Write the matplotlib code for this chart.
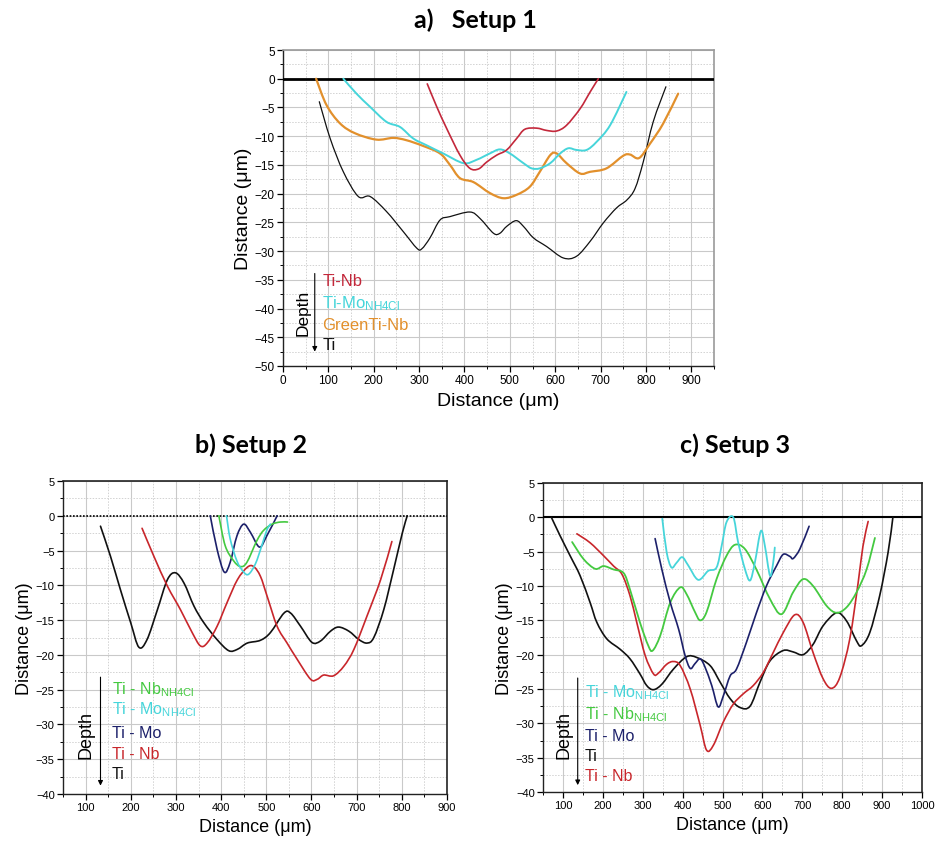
import matplotlib
matplotlib.use('Agg')
import matplotlib.pyplot as plt
from matplotlib.ticker import MultipleLocator
from matplotlib.path import Path
from matplotlib.patches import PathPatch

plt.rcParams['font.family'] = ['Liberation Sans', 'DejaVu Sans']
plt.rcParams['mathtext.fontset'] = 'custom'
plt.rcParams['mathtext.rm'] = 'Liberation Sans'
plt.rcParams['mathtext.it'] = 'Liberation Sans:italic'
plt.rcParams['mathtext.bf'] = 'Liberation Sans:bold'

# ---------------- Panel a (Setup 1) ----------------
a_ti_x = [80, 104, 133, 166, 192, 228, 265, 295, 306, 324, 346, 368, 412, 434, 464, 478, 493, 514, 530, 552,
          581, 618, 647, 677, 706, 735, 758, 776, 794, 816, 844]
a_ti_y = [-4.0, -10.4, -16.2, -20.5, -20.5, -23.1, -26.6, -29.5, -29.6, -27.7, -24.6, -24.0, -23.2, -24.3, -26.9,
          -26.9, -25.7, -24.7, -25.7, -27.7, -29.2, -31.2, -30.9, -28.3, -25.1, -22.5, -21.1, -19.1, -14.5, -7.5, -1.4]

a_green_x = [73, 96, 126, 159, 206, 243, 272, 309, 346, 368, 390, 420, 456, 486, 515, 544, 566, 589, 603, 625,
             655, 677, 713, 750, 765, 785, 809, 838, 871]
a_green_y = [0, -4.6, -7.8, -9.5, -10.6, -10.3, -10.7, -11.7, -13.0, -15.0, -17.3, -18.0, -19.9, -20.8, -20.2,
             -18.8, -16.2, -13.3, -13.0, -14.7, -16.5, -16.2, -15.6, -13.4, -13.2, -13.8, -11.3, -7.8, -2.6]

a_mo_x = [133, 162, 192, 228, 258, 287, 317, 353, 398, 427, 456, 478, 500, 530, 548, 566, 589, 611, 629, 647,
          669, 691, 721, 757]
a_mo_y = [0, -2.6, -4.9, -7.5, -8.4, -10.4, -11.6, -13.0, -14.7, -14.1, -13.0, -12.3, -13.0, -14.7, -15.6, -15.6,
          -14.7, -13.0, -12.1, -12.4, -12.4, -11.0, -8.1, -2.3]

a_nb_x = [318, 339, 361, 390, 412, 431, 449, 471, 493, 515, 533, 559, 581, 603, 625, 655, 677, 695]
a_nb_y = [-0.9, -4.9, -8.7, -13.3, -15.6, -15.7, -14.5, -13.3, -12.4, -10.4, -8.8, -8.6, -9.0, -9.1, -8.1, -5.2,
          -2.3, 0]

a_labels = ['Ti-Nb', r'Ti-Mo$_{\mathregular{NH4Cl}}$', 'GreenTi-Nb', 'Ti']

# ---------------- Panel b (Setup 2) ----------------
b_ti_x = [133, 155, 177, 200, 218, 236, 259, 281, 299, 318, 340, 362, 391, 417, 436, 458, 487, 509, 539, 554,
          576, 601, 620, 642, 660, 683, 705, 723, 738, 760, 782, 801, 812]
b_ti_y = [-1.5, -5.8, -10.6, -15.4, -18.9, -17.8, -13.5, -9.2, -8.2, -9.7, -13.0, -15.4, -17.8, -19.4, -19.2,
          -18.3, -17.9, -16.8, -14.0, -14.0, -15.9, -18.2, -18.0, -16.6, -16.0, -16.6, -17.8, -18.3, -17.5, -13.5,
          -7.7, -2.5, 0]

b_nb_x = [225, 251, 281, 310, 336, 354, 369, 391, 413, 436, 458, 472, 487, 502, 524, 546, 568, 598, 613, 627,
          649, 672, 694, 723, 753, 778]
b_nb_y = [-1.8, -5.8, -10.1, -13.5, -16.8, -18.7, -18.3, -15.9, -12.5, -9.2, -7.4, -7.3, -8.7, -11.6, -15.9,
          -18.3, -20.6, -23.5, -23.5, -22.9, -23.0, -21.6, -19.2, -14.4, -9.2, -3.7]

b_mo_x = [376, 391, 407, 420, 435, 450, 465, 485, 501, 524]
b_mo_y = [0, -4.8, -8.1, -6.7, -2.9, -1.2, -2.4, -4.5, -2.9, 0]

b_nbn_x = [395, 409, 428, 443, 457, 479, 494, 513, 531, 547]
b_nbn_y = [0, -4.3, -6.5, -7.3, -6.7, -3.6, -2.1, -1.2, -0.9, -0.9]

b_mon_x = [412, 420, 435, 450, 461, 476, 490, 501, 509]
b_mon_y = [0, -3.3, -6.5, -8.1, -8.4, -6.9, -4.3, -2.1, -1.2]

b_labels = [r'Ti - Nb$_{\mathregular{NH4Cl}}$', r'Ti - Mo$_{\mathregular{NH4Cl}}$', 'Ti - Mo', 'Ti - Nb', 'Ti']

# ---------------- Panel c (Setup 3) ----------------
c_ti_x = [71, 93, 118, 143, 168, 185, 210, 243, 268, 293, 310, 327, 348, 377, 410, 435, 469, 494, 519, 544,
          569, 594, 619, 652, 677, 702, 727, 752, 786, 811, 836, 848, 869, 894, 915, 927]
c_ti_y = [0, -2.7, -5.6, -8.5, -12.4, -15.3, -17.7, -19.2, -20.6, -22.8, -24.5, -25.1, -24.3, -22.1, -20.3,
          -20.4, -21.6, -24.0, -26.4, -27.7, -27.5, -24.0, -20.9, -19.4, -19.6, -20.0, -18.5, -15.8, -13.9, -15.1,
          -18.0, -18.7, -16.8, -11.4, -5.1, 0]

c_nb_x = [135, 168, 202, 227, 248, 268, 285, 306, 327, 339, 360, 377, 394, 419, 444, 460, 477, 502, 527, 552,
          577, 602, 627, 652, 681, 702, 727, 752, 773, 794, 819, 840, 852, 865]
c_nb_y = [-2.4, -3.7, -5.6, -7.1, -8.3, -11.4, -15.3, -20.1, -22.8, -22.7, -21.4, -21.0, -21.6, -25.0, -30.3,
          -33.9, -33.2, -29.8, -27.2, -25.7, -24.5, -22.6, -19.7, -16.8, -14.2, -15.3, -19.7, -23.5, -24.9, -23.3,
          -17.7, -9.5, -4.2, -0.6]

c_nbn_x = [123, 152, 181, 202, 227, 252, 268, 293, 314, 325, 344, 369, 394, 410, 431, 444, 460, 485, 510, 531,
           556, 585, 619, 648, 677, 702, 727, 761, 786, 811, 836, 861, 882]
c_nbn_y = [-3.6, -6.1, -7.5, -7.1, -7.6, -8.1, -10.5, -15.3, -18.7, -19.4, -17.2, -12.4, -10.2, -11.2, -13.8,
           -15.0, -13.8, -9.0, -5.6, -4.0, -4.6, -7.6, -11.9, -14.1, -10.9, -9.0, -10.0, -12.9, -13.9, -13.1, -10.9,
           -7.6, -3.0]

c_mo_x = [331, 348, 369, 390, 406, 419, 431, 444, 456, 473, 489, 502, 519, 535, 560, 585, 610, 635, 652, 669,
          677, 694, 717]
c_mo_y = [-3.1, -7.6, -12.4, -16.3, -20.1, -22.0, -21.3, -20.6, -21.8, -24.5, -27.6, -26.0, -23.1, -22.1, -18.2,
          -13.9, -10.0, -7.1, -5.4, -5.7, -6.0, -4.6, -1.3]

c_mon_x = [349, 360, 372, 385, 399, 414, 439, 464, 485, 498, 510, 527, 539, 556, 569, 581, 596, 606, 619, 627, 631]
c_mon_y = [-0.2, -5.1, -7.3, -6.6, -5.8, -7.0, -9.1, -7.8, -7.3, -4.1, -0.7, 0, -3.6, -7.5, -9.2, -6.6, -2.0,
           -4.1, -8.5, -6.6, -4.4]

c_labels = [r'Ti - Mo$_{\mathregular{NH4Cl}}$', r'Ti - Nb$_{\mathregular{NH4Cl}}$', 'Ti - Mo', 'Ti', 'Ti - Nb']

# colours
RED_A = '#c3283b'
CYAN = '#46d5da'
ORANGE = '#e2902c'
RED = '#c8262b'
NAVY = '#1c206a'
GREEN = '#44c940'
BLACK = '#111111'

W, H = 935, 845
fig = plt.figure(figsize=(W / 100, H / 100), dpi=100)


def px_axes(l, r, t, b):
    return fig.add_axes([l / W, 1 - b / H, (r - l) / W, (b - t) / H])


def style(ax, xlim, ylim, xmax_tick, xtick_start, label_size, tick_size, frame_gray):
    ax.set_xlim(*xlim)
    ax.set_ylim(*ylim)
    ax.set_xticks(list(range(xtick_start, xmax_tick + 1, 100)))
    ax.xaxis.set_minor_locator(MultipleLocator(50))
    ax.set_yticks(list(range(ylim[0], ylim[1] + 1, 5)))
    ax.yaxis.set_minor_locator(MultipleLocator(2.5))
    ax.grid(which='major', color='#c9c9c9', lw=0.8, ls='-')
    ax.grid(which='minor', color='#d2d2d2', lw=0.7, ls=(0, (1.5, 1.5)))
    ax.set_axisbelow(True)
    ax.tick_params(which='major', direction='out', length=4, width=0.9, labelsize=tick_size, pad=2)
    ax.tick_params(which='minor', direction='out', length=2.5, width=0.7)
    for s in ['left', 'bottom']:
        ax.spines[s].set_color('#222222')
        ax.spines[s].set_linewidth(1.0)
    for s in ['top', 'right']:
        ax.spines[s].set_color('#9a9a9a' if frame_gray else '#222222')
        ax.spines[s].set_linewidth(1.2)
    ax.set_xlabel('Distance (μm)', fontsize=label_size, labelpad=4)
    ax.set_ylabel('Distance (μm)', fontsize=label_size, labelpad=2)


def smooth_line(ax, xs, ys, color, lw, z):
    """Draw a smooth (Catmull-Rom style Bezier) curve through the given data points."""
    pts = list(zip(xs, ys))
    n = len(pts)
    verts = [pts[0]]
    codes = [Path.MOVETO]
    for i in range(n - 1):
        p0 = pts[i - 1] if i > 0 else pts[i]
        p1 = pts[i]
        p2 = pts[i + 1]
        p3 = pts[i + 2] if i + 2 < n else pts[i + 1]
        c1 = (p1[0] + (p2[0] - p0[0]) / 6.0, p1[1] + (p2[1] - p0[1]) / 6.0)
        c2 = (p2[0] - (p3[0] - p1[0]) / 6.0, p2[1] - (p3[1] - p1[1]) / 6.0)
        verts += [c1, c2, p2]
        codes += [Path.CURVE4, Path.CURVE4, Path.CURVE4]
    patch = PathPatch(Path(verts, codes), facecolor='none', edgecolor=color, lw=lw, zorder=z,
                      capstyle='round', joinstyle='round')
    ax.add_patch(patch)


def legend_block(ax, labels, colors, lx, ys, arrow_x, arrow_y0, arrow_y1, depth_x, depth_y, fs, dfs):
    for lab, col, yy in zip(labels, colors, ys):
        ax.text(lx, yy, lab, color=col, fontsize=fs, va='center', ha='left')
    ax.annotate('', xy=(arrow_x, arrow_y1), xytext=(arrow_x, arrow_y0),
                arrowprops=dict(arrowstyle='-|>', lw=0.8, color='black', mutation_scale=7,
                                shrinkA=0, shrinkB=0))
    ax.text(depth_x, depth_y, 'Depth', rotation=90, fontsize=dfs, va='center', ha='center', color='black')


# ---- Panel a ----
axa = px_axes(283, 714, 51, 367)
style(axa, (0, 950), (-50, 5), 900, 0, 14, 8.5, True)
axa.plot([0, 950], [0, 0], color='black', lw=2.0, zorder=3)
smooth_line(axa, a_ti_x, a_ti_y, BLACK, 0.9, 4)
smooth_line(axa, a_green_x, a_green_y, ORANGE, 1.6, 4)
smooth_line(axa, a_mo_x, a_mo_y, CYAN, 1.4, 4)
smooth_line(axa, a_nb_x, a_nb_y, RED_A, 1.2, 5)
legend_block(axa, a_labels, [RED_A, CYAN, ORANGE, BLACK], 87, [-35.2, -38.9, -42.7, -46.2],
             70, -33.9, -47.5, 45, -40.5, 12, 12.5)

# ---- Panel b ----
axb = px_axes(63, 447, 482, 795)
style(axb, (50, 900), (-40, 5), 900, 100, 13, 8, False)
axb.plot([50, 900], [0, 0], color='black', lw=1.2, ls=(0, (1, 1)), zorder=3)
smooth_line(axb, b_ti_x, b_ti_y, BLACK, 1.2, 4)
smooth_line(axb, b_nb_x, b_nb_y, RED, 1.2, 4)
smooth_line(axb, b_mo_x, b_mo_y, NAVY, 1.2, 5)
smooth_line(axb, b_nbn_x, b_nbn_y, GREEN, 1.2, 5)
smooth_line(axb, b_mon_x, b_mon_y, CYAN, 1.2, 5)
legend_block(axb, b_labels, [GREEN, CYAN, NAVY, RED, BLACK], 158, [-24.9, -27.8, -31.1, -34.2, -37.0],
             133, -23.2, -38.8, 101, -31.4, 11.5, 13)

# ---- Panel c ----
axc = px_axes(543, 922, 484, 793)
style(axc, (50, 1000), (-40, 5), 1000, 100, 13, 8, False)
axc.plot([50, 1000], [0, 0], color='black', lw=1.5, zorder=3)
smooth_line(axc, c_ti_x, c_ti_y, BLACK, 1.2, 4)
smooth_line(axc, c_nb_x, c_nb_y, RED, 1.2, 4)
smooth_line(axc, c_nbn_x, c_nbn_y, GREEN, 1.3, 4)
smooth_line(axc, c_mo_x, c_mo_y, NAVY, 1.2, 5)
smooth_line(axc, c_mon_x, c_mon_y, CYAN, 1.3, 5)
legend_block(axc, c_labels, [CYAN, GREEN, NAVY, BLACK, RED], 155, [-25.4, -28.6, -31.8, -34.7, -37.6],
             137, -23.4, -39.0, 103, -31.5, 11.5, 13)

# titles
fig.text(475 / W, 1 - 20 / H, 'a)   Setup 1', fontsize=18, fontweight='bold', family=['Lato', 'DejaVu Sans'],
         ha='center', va='center')
fig.text(251 / W, 1 - 445 / H, 'b) Setup 2', fontsize=18, fontweight='bold', family=['Lato', 'DejaVu Sans'],
         ha='center', va='center')
fig.text(735 / W, 1 - 445 / H, 'c) Setup 3', fontsize=18, fontweight='bold', family=['Lato', 'DejaVu Sans'],
         ha='center', va='center')

fig.savefig('out.png', dpi=100)
